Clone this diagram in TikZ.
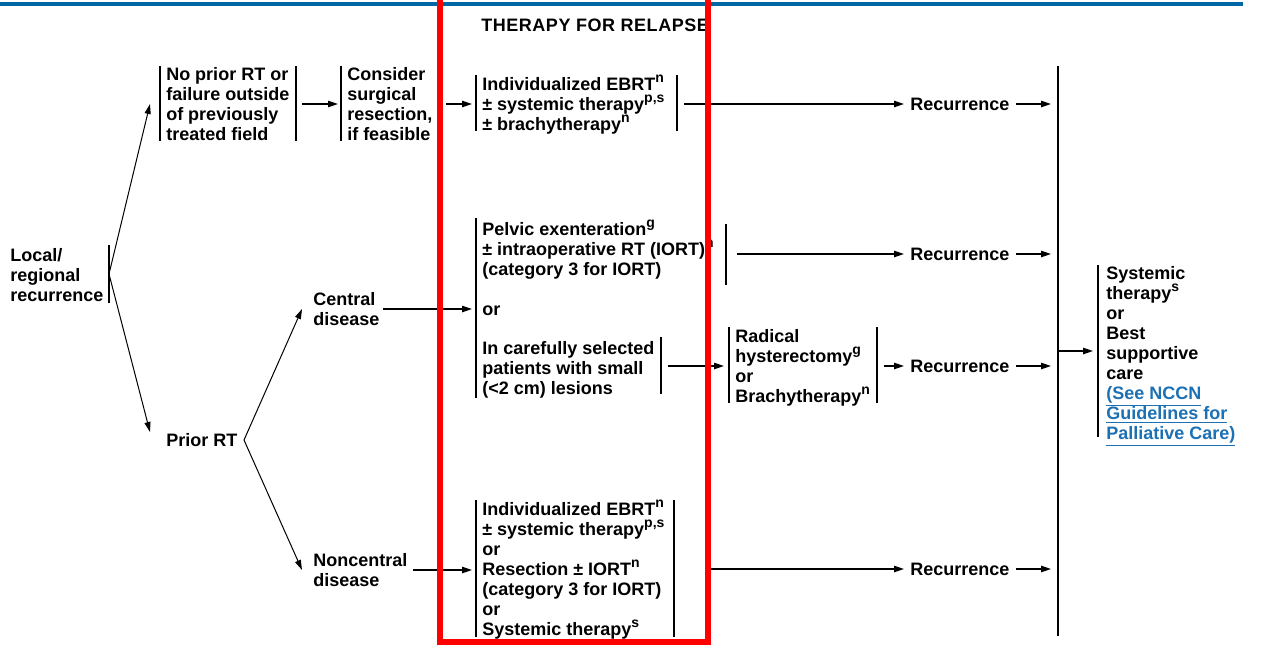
\documentclass[tikz,border=0pt]{standalone}
\usepackage{fontspec}
\setmainfont{Liberation Sans}
\usetikzlibrary{arrows.meta}
\definecolor{nccnblue}{RGB}{0,102,164}
\definecolor{linkblue}{RGB}{28,112,180}
\definecolor{hlred}{RGB}{255,0,0}
\newcommand{\sps}[1]{\smash{\raisebox{0.44em}{\fontsize{10.5pt}{10.5pt}\selectfont #1}}}
\begin{document}
\begin{tikzpicture}[x=0.75pt,y=-0.75pt,
  txt/.style={anchor=north west, inner sep=0pt, align=left, font=\fontsize{13.5pt}{15pt}\selectfont\bfseries},
  bar/.style={line width=1.5pt},
  arr/.style={line width=1.1pt, -{Triangle[length=7.5pt,width=4.8pt]}},
  darr/.style={line width=0.75pt, -{Triangle[length=7.5pt,width=4.5pt]}}]
\useasboundingbox (0,0) rectangle (1265,646);
% top rule
\draw[nccnblue, line width=3pt] (0,3.5) -- (1243,3.5);
% texts
\node[txt, font=\fontsize{13.5pt}{15pt}\selectfont\bfseries\addfontfeatures{LetterSpace=3}] (title) at (481,17.5) {\strut THERAPY FOR RELAPSE};
\node[txt] (loc) at (10,247.5) {\strut Local/\\regional\\recurrence};
\node[txt] (nopr) at (166,66.5) {\strut No prior RT or\\failure outside\\of previously\\treated field};
\node[txt] (cons) at (347,66.5) {\strut Consider\\surgical\\resection,\\if feasible};
\node[txt] (ebrtA) at (482,76.5) {\strut Individualized EBRT\sps{n}\\± systemic therapy\sps{p,s}\\± brachytherapy\sps{n}};
\node[txt] (recA) at (910,96.5) {\strut Recurrence};
\node[txt] (prior) at (166,432.5) {\strut Prior RT};
\node[txt] (central) at (313,291.5) {\strut Central\\disease};
\node[txt] (pelvic) at (482,221.5) {\strut Pelvic exenteration\sps{g}\\± intraoperative RT (IORT)\sps{n}\\(category 3 for IORT)};
\node[txt] (or1) at (482,301.5) {\strut or};
\node[txt] (small) at (482,340.5) {\strut In carefully selected\\patients with small\\(<2 cm) lesions};
\node[txt] (recB) at (910,246.5) {\strut Recurrence};
\node[txt] (radical) at (735,328.5) {\strut Radical\\hysterectomy\sps{g}\\or\\Brachytherapy\sps{n}};
\node[txt] (recC) at (910,358.5) {\strut Recurrence};
\node[txt] (noncen) at (313,552.5) {\strut Noncentral\\disease};
\node[txt] (ebrtB) at (482,501.5) {\strut Individualized EBRT\sps{n}\\± systemic therapy\sps{p,s}\\or\\Resection ± IORT\sps{n}\\(category 3 for IORT)\\or\\Systemic therapy\sps{s}};
\node[txt] (recD) at (910,561.5) {\strut Recurrence};
\node[txt] (final) at (1106,265.5) {\strut Systemic\\therapy\sps{s}\\or\\Best\\supportive\\care\\{\color{linkblue}\underline{(See NCCN}}\\{\color{linkblue}\underline{Guidelines for}}\\{\color{linkblue}\underline{Palliative Care)}}};
% bars
\draw[bar] (109,245) -- (109,303);
\draw[bar] (160,66) -- (160,141);
\draw[bar] (296,66) -- (296,141);
\draw[bar] (341,66) -- (341,141);
\draw[bar] (476,75) -- (476,131);
\draw[bar] (677,75) -- (677,131);
\draw[bar] (476,218) -- (476,398);
\draw[bar] (726,224) -- (726,285);
\draw[bar] (661,337) -- (661,394);
\draw[bar] (729,327) -- (729,403);
\draw[bar] (877,327) -- (877,403);
\draw[bar] (476,500) -- (476,637);
\draw[bar] (674,500) -- (674,637);
\draw[bar] (1058,66) -- (1058,636);
\draw[bar] (1098,265) -- (1098,437);
% junction coordinates
\coordinate (locJ) at (109,274);
\coordinate (priorJ) at (244,440);
\coordinate (toNopr) at (150,104);
\coordinate (toPrior) at (150,432);
\coordinate (toCentral) at (302,309);
\coordinate (toNoncen) at (302,570);
% diagonal arrows
\draw[darr] (locJ) -- (toNopr);
\draw[darr] (locJ) -- (toPrior);
\draw[darr] (priorJ) -- (toCentral);
\draw[darr] (priorJ) -- (toNoncen);
% horizontal arrows
\draw[arr] (302,104) -- (338,104);
\draw[arr] (446,104) -- (472,104);
\draw[arr] (684,104) -- (904,104);
\draw[arr] (1016,104) -- (1051,104);
\draw[arr] (737,254) -- (904,254);
\draw[arr] (1016,254) -- (1051,254);
\draw[arr] (383,309) -- (472,309);
\draw[arr] (668,366) -- (724,366);
\draw[arr] (884,366) -- (904,366);
\draw[arr] (1016,366) -- (1051,366);
\draw[arr] (413,570) -- (472,570);
\draw[arr] (711,569) -- (904,569);
\draw[arr] (1016,569) -- (1051,569);
\draw[arr] (1058,351) -- (1093,351);
% red highlight frame
\draw[hlred, line width=4.5pt] (440,-10) -- (440,641.5) -- (708,641.5) -- (708,-10);
\end{tikzpicture}
\end{document}
